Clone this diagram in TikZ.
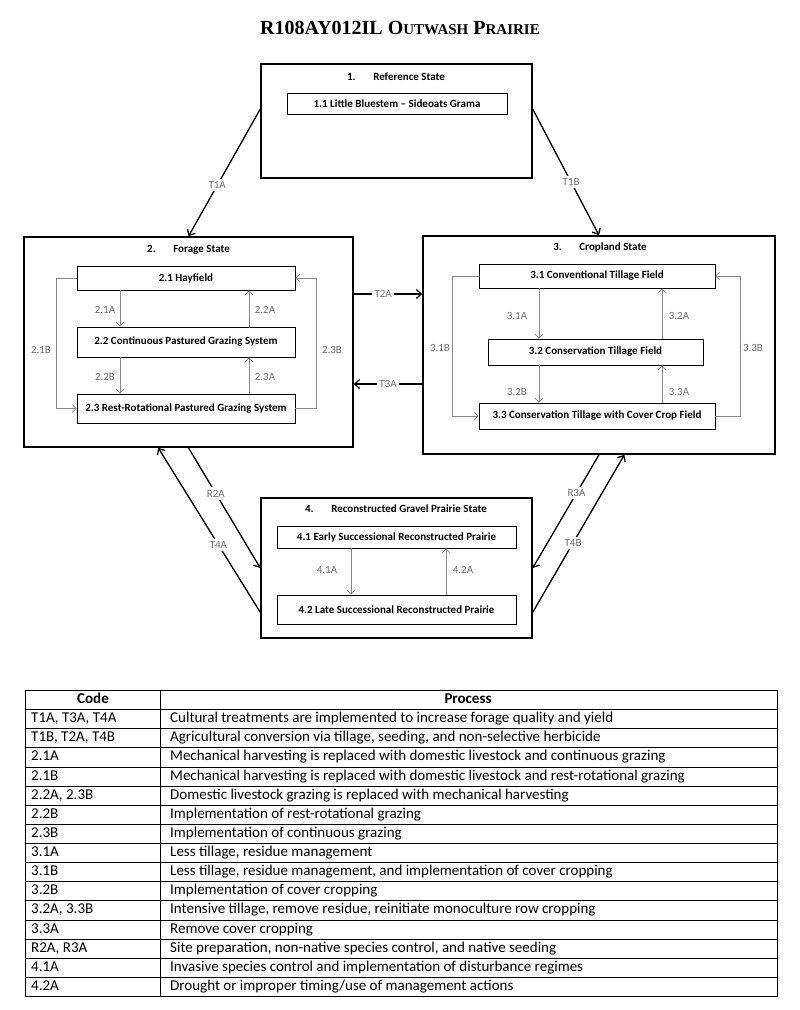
\documentclass[tikz,border=0pt]{standalone}
\usepackage{fontspec}
\setmainfont{Carlito}
\newfontfamily\titlefont{Liberation Serif}
\usetikzlibrary{positioning,arrows.meta}

\definecolor{labelgray}{RGB}{110,110,110}
\definecolor{loopgray}{RGB}{135,135,135}

\tikzset{
	statebox/.style={draw, line width=1.5pt, inner sep=0pt},
	statetitle/.style={font=\bfseries\fontsize{11}{13}\selectfont},
	phasebox/.style={draw, line width=0.9pt, inner sep=0pt, font=\bfseries\fontsize{11}{13}\selectfont},
	phasearrow/.style={draw=loopgray, line width=0.7pt, -{Straight Barb[length=4pt,width=8pt]}},
	phaselabel/.style={text=labelgray, font=\fontsize{11}{13}\selectfont},
	trans/.style={line width=1.3pt, -{Straight Barb[length=5pt,width=9pt]}},
	translabel/.style={fill=white, text=labelgray, inner sep=2.5pt, font=\fontsize{11}{13}\selectfont},
	tablehead/.style={text height=10.5pt, text depth=3.5pt, inner sep=0pt, font=\bfseries\fontsize{15}{17}\selectfont},
	tablecell/.style={anchor=west, text height=10.5pt, text depth=3.5pt, inner sep=0pt, font=\fontsize{15}{17}\selectfont},
}

\begin{document}
\begin{tikzpicture}[x=1pt, y=-1pt]
	\useasboundingbox (0,0) rectangle (800,1010);

	\node (title) at (400,28) {\titlefont\bfseries\fontsize{20}{24}\selectfont R108AY012IL O{\fontsize{15}{18}\selectfont UTWASH} P{\fontsize{15}{18}\selectfont RAIRIE}};

	% states
	\node[statebox, minimum width=271pt, minimum height=114pt] (s1) at (396.5,121) {};
	\node[statebox, minimum width=329pt, minimum height=210pt] (s2) at (188.5,342) {};
	\node[statebox, minimum width=352pt, minimum height=218pt] (s3) at (599,345) {};
	\node[statebox, minimum width=271pt, minimum height=140pt] (s4) at (396.5,568) {};

	\node[statetitle] (s1title) at (396,77) {1.\hspace{1.6em}Reference State};
	\node[statetitle] (s2title) at (188.5,250) {2.\hspace{1.6em}Forage State};
	\node[statetitle] (s3title) at (600,248) {3.\hspace{1.6em}Cropland State};
	\node[statetitle] (s4title) at (396,509) {4.\hspace{1.6em}Reconstructed Gravel Prairie State};

	% phases
	\node[phasebox, minimum width=220pt, minimum height=21pt] (p11) at (397,103.5) {1.1 Little Bluestem -- Sideoats Grama};

	\node[phasebox, minimum width=218pt, minimum height=24pt] (p21) at (186,278) {2.1 Hayfield};
	\node[phasebox, minimum width=218pt, minimum height=30pt] (p22) at (186,342) {2.2 Continuous Pastured Grazing System};
	\node[phasebox, minimum width=218pt, minimum height=29pt] (p23) at (186,408.5) {2.3 Rest-Rotational Pastured Grazing System};

	\node[phasebox, minimum width=236pt, minimum height=24pt] (p31) at (597,276) {3.1 Conventional Tillage Field};
	\node[phasebox, minimum width=215pt, minimum height=26pt] (p32) at (595.5,352) {3.2 Conservation Tillage Field};
	\node[phasebox, minimum width=236pt, minimum height=26pt] (p33) at (597,416) {3.3 Conservation Tillage with Cover Crop Field};

	\node[phasebox, minimum width=239pt, minimum height=22pt] (p41) at (396.5,537) {4.1 Early Successional Reconstructed Prairie};
	\node[phasebox, minimum width=239pt, minimum height=29pt] (p42) at (396.5,609.5) {4.2 Late Successional Reconstructed Prairie};

	% community pathways
	\draw[phasearrow] (p21.south -| 120,0) -- (p22.north -| 120,0);
	\draw[phasearrow] (p22.north -| 249,0) -- (p21.south -| 249,0);
	\draw[phasearrow] (p22.south -| 120,0) -- (p23.north -| 120,0);
	\draw[phasearrow] (p23.north -| 249,0) -- (p22.south -| 249,0);
	\draw[phasearrow] (p21.west) -- ++(-20,0) |- (p23.west);
	\draw[phasearrow] (p23.east) -- ++(21,0) |- (p21.east);

	\draw[phasearrow] (p31.south -| 539,0) -- (p32.north -| 539,0);
	\draw[phasearrow] (p32.north -| 662,0) -- (p31.south -| 662,0);
	\draw[phasearrow] (p32.south -| 539,0) -- (p33.north -| 539,0);
	\draw[phasearrow] (p33.north -| 662,0) -- (p32.south -| 662,0);
	\draw[phasearrow] (p31.west) -- ++(-26,0) |- (p33.west);
	\draw[phasearrow] (p33.east) -- ++(25,0) |- (p31.east);

	\draw[phasearrow] (p41.south -| 351,0) -- (p42.north -| 351,0);
	\draw[phasearrow] (p42.north -| 446,0) -- (p41.south -| 446,0);

	\node[phaselabel] (l21a) at (105,310) {2.1A};
	\node[phaselabel] (l22a) at (265,310) {2.2A};
	\node[phaselabel] (l22b) at (105,377) {2.2B};
	\node[phaselabel] (l23a) at (265,377) {2.3A};
	\node[phaselabel] (l21b) at (41,350) {2.1B};
	\node[phaselabel] (l23b) at (332,350) {2.3B};

	\node[phaselabel] (l31a) at (517,316) {3.1A};
	\node[phaselabel] (l32a) at (679,316) {3.2A};
	\node[phaselabel] (l32b) at (517,392) {3.2B};
	\node[phaselabel] (l33a) at (679,392) {3.3A};
	\node[phaselabel] (l31b) at (440,348) {3.1B};
	\node[phaselabel] (l33b) at (753,348) {3.3B};

	\node[phaselabel] (l41a) at (327,570) {4.1A};
	\node[phaselabel] (l42a) at (463,570) {4.2A};

	% transitions
	\draw[trans] (s1.175) -- node[translabel, pos=0.6] {T1A} (s2.north);
	\draw[trans] (s1.5) -- node[translabel, pos=0.58] {T1B} (s3.north);
	\draw[trans] (s2.east |- 0,294) -- node[translabel, pos=0.43] {T2A} (s3.west |- 0,294);
	\draw[trans] (s3.west |- 0,384) -- node[translabel, pos=0.5] {T3A} (s2.east |- 0,384);
	\draw[trans] (s2.south) -- node[translabel, pos=0.38] {R2A} (s4.west);
	\draw[trans] (s4.198) -- node[translabel, pos=0.41] {T4A} (s2.254);
	\draw[trans] (s3.south) -- node[translabel, pos=0.34] {R3A} (s4.east);
	\draw[trans] (s4.-18) -- node[translabel, pos=0.44] {T4B} (s3.283);

	% table
	\draw[line width=0.8pt] (25,690) rectangle (777,996);
	\draw[line width=0.8pt] (160,690) -- (160,996);
	\draw[line width=0.8pt] (25,709) -- (777,709) (25,728) -- (777,728) (25,747) -- (777,747)
		(25,767) -- (777,767) (25,786) -- (777,786) (25,805) -- (777,805) (25,824) -- (777,824)
		(25,843) -- (777,843) (25,862) -- (777,862) (25,881) -- (777,881) (25,900) -- (777,900)
		(25,920) -- (777,920) (25,939) -- (777,939) (25,958) -- (777,958) (25,977) -- (777,977);

	\node[tablehead] (hcode) at (93,699.5) {Code};
	\node[tablehead] (hproc) at (468,699.5) {Process};

	\node[tablecell] (c1) at (31,718.5) {T1A, T3A, T4A};
	\node[tablecell] (d1) at (170,718.5) {Cultural treatments are implemented to increase forage quality and yield};
	\node[tablecell] (c2) at (31,737.5) {T1B, T2A, T4B};
	\node[tablecell] (d2) at (170,737.5) {Agricultural conversion via tillage, seeding, and non-selective herbicide};
	\node[tablecell] (c3) at (31,757) {2.1A};
	\node[tablecell] (d3) at (170,757) {Mechanical harvesting is replaced with domestic livestock and continuous grazing};
	\node[tablecell] (c4) at (31,776.5) {2.1B};
	\node[tablecell] (d4) at (170,776.5) {Mechanical harvesting is replaced with domestic livestock and rest-rotational grazing};
	\node[tablecell] (c5) at (31,795.5) {2.2A, 2.3B};
	\node[tablecell] (d5) at (170,795.5) {Domestic livestock grazing is replaced with mechanical harvesting};
	\node[tablecell] (c6) at (31,814.5) {2.2B};
	\node[tablecell] (d6) at (170,814.5) {Implementation of rest-rotational grazing};
	\node[tablecell] (c7) at (31,833.5) {2.3B};
	\node[tablecell] (d7) at (170,833.5) {Implementation of continuous grazing};
	\node[tablecell] (c8) at (31,852.5) {3.1A};
	\node[tablecell] (d8) at (170,852.5) {Less tillage, residue management};
	\node[tablecell] (c9) at (31,871.5) {3.1B};
	\node[tablecell] (d9) at (170,871.5) {Less tillage, residue management, and implementation of cover cropping};
	\node[tablecell] (c10) at (31,890.5) {3.2B};
	\node[tablecell] (d10) at (170,890.5) {Implementation of cover cropping};
	\node[tablecell] (c11) at (31,910) {3.2A, 3.3B};
	\node[tablecell] (d11) at (170,910) {Intensive tillage, remove residue, reinitiate monoculture row cropping};
	\node[tablecell] (c12) at (31,929.5) {3.3A};
	\node[tablecell] (d12) at (170,929.5) {Remove cover cropping};
	\node[tablecell] (c13) at (31,948.5) {R2A, R3A};
	\node[tablecell] (d13) at (170,948.5) {Site preparation, non-native species control, and native seeding};
	\node[tablecell] (c14) at (31,967.5) {4.1A};
	\node[tablecell] (d14) at (170,967.5) {Invasive species control and implementation of disturbance regimes};
	\node[tablecell] (c15) at (31,986.5) {4.2A};
	\node[tablecell] (d15) at (170,986.5) {Drought or improper timing/use of management actions};

\end{tikzpicture}
\end{document}
